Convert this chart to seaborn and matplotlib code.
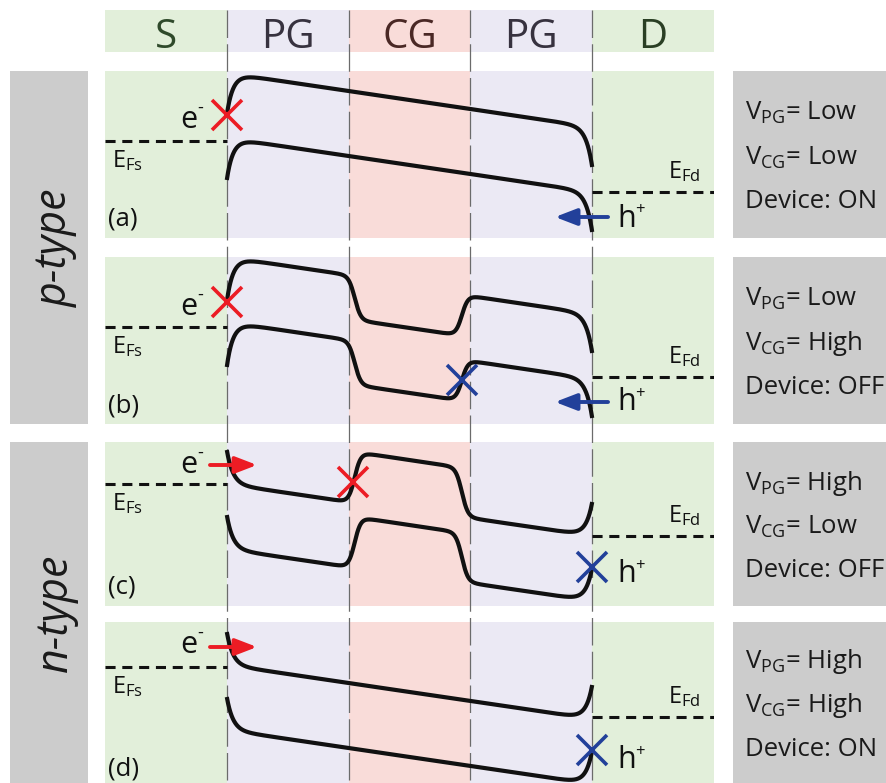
import numpy as np
import matplotlib
matplotlib.use("Agg")
import matplotlib.pyplot as plt
from matplotlib.patches import Rectangle
import seaborn as sns

# ---------------------------------------------------------------- data
regions = ["S", "PG", "CG", "PG", "D"]
panel_tags = ["(a)", "(b)", "(c)", "(d)"]
type_labels = ["p-type", "n-type"]
v_pg = ["Low", "Low", "High", "High"]
v_cg = ["Low", "High", "Low", "High"]
device_state = ["ON", "OFF", "OFF", "ON"]

# conduction-band edge at the start of the PG, CG and PG segments (a.u.)
cb_levels = [[165, 147, 129], [167, 105, 128], [122, 155, 88], [118, 100, 82]]
cb_source = [123, 122, 156, 151]   # band edge pinned at the source contact
cb_drain = [71, 71, 104, 98]       # band edge pinned at the drain contact
ef_source = [97, 97, 122, 116]     # source Fermi level
ef_drain = [46, 47, 70, 66]        # drain Fermi level
band_gap = 65
ds_tilt = 18                       # potential drop per region from V_DS

# where carriers are blocked (None = not blocked)
electron_block_x = [1.0, 1.0, 2.04, None]
hole_block_x = [None, 2.93, 4.0, 4.0]
# injected carriers drawn as arrows
electron_injected = [False, False, True, True]
hole_injected = [True, True, False, False]

# ---------------------------------------------------------------- styling
sns.set_theme(style="white")
plt.rcParams["font.family"] = ["Open Sans", "DejaVu Sans"]
plt.rcParams["mathtext.fontset"] = "custom"
plt.rcParams["mathtext.rm"] = "Open Sans"
plt.rcParams["mathtext.it"] = "Open Sans:italic"
plt.rcParams["mathtext.bf"] = "Open Sans:bold"

region_colors = ["#e2efda", "#ebe9f4", "#f9dcd9", "#ebe9f4", "#e2efda"]
header_colors = ["#2f4a2b", "#37323f", "#4a2825", "#37323f", "#2a3f24"]
RED = "#ec1c24"
BLUE = "#22409a"
GREY = "#cccccc"
INK = "#111111"

W, H, DPI = 886, 783, 100
X0, X1 = 105, 714
HEAD = (10, 52)
rows = [(71, 238), (257, 424), (442, 606), (622, 783)]

e_label_base = [110, 109, 133, 130]
e_arrow_y = [None, None, 141, 136]
h_label_base = [11, 14, 24, 15]
h_arrow_y = [21, 22, None, None]
tag_base = [13, 12, 12, 8]
ARROW = "-|>,head_length=1.3,head_width=0.5"


def frac(x0, y0, x1, y1):
    return [x0 / W, 1 - y1 / H, (x1 - x0) / W, (y1 - y0) / H]


def conduction_band(x, levels, src, drn, tilt, steps=(2.05, 2.93), w=0.05, L=0.05):
    seg = [levels[i] - tilt * (x - (1 + i)) for i in range(3)]
    s1 = 0.5 * (1 + np.tanh((x - steps[0]) / w))
    s2 = 0.5 * (1 + np.tanh((x - steps[1]) / w))
    base = seg[0] + s1 * (seg[1] - seg[0]) + s2 * (seg[2] - seg[1])
    b_src = levels[0]
    b_drn = levels[2] - tilt
    return (base + (src - b_src) * np.exp(-(x - 1) / L)
            + (drn - b_drn) * np.exp(-(4 - x) / L))


fig = plt.figure(figsize=(W / DPI, H / DPI), dpi=DPI)

# grey side bars and state boxes, in figure pixels
base = fig.add_axes([0, 0, 1, 1], zorder=0)
base.set_xlim(0, W)
base.set_ylim(H, 0)
base.axis("off")
for (top, bot), lab in zip([(71, 424), (442, 783)], type_labels):
    base.add_patch(Rectangle((10, top), 78, bot - top, color=GREY, lw=0))
    base.text(56, (top + bot) / 2, lab, rotation=90, ha="center", va="center",
              fontsize=31, style="italic", color="#1a1a1a")
for k, (top, bot) in enumerate(rows):
    base.add_patch(Rectangle((733, top), W - 733, bot - top, color=GREY, lw=0))
    c = (top + bot) / 2
    lines = [r"V$_{\mathrm{PG}}$= " + v_pg[k],
             r"V$_{\mathrm{CG}}$= " + v_cg[k],
             "Device: " + device_state[k]]
    for txt, dy in zip(lines, [-34.5, 10, 53]):
        base.text(745, c + dy, txt, ha="left", va="baseline",
                  fontsize=18.5, color="#1a1a1a")

# device regions: header strip, panel backgrounds, boundary lines
col = fig.add_axes(frac(X0, HEAD[0], X1, H), zorder=1)
col.set_xlim(0, 5)
col.set_ylim(H, HEAD[0])
col.axis("off")
for i, (name, fc, tc) in enumerate(zip(regions, region_colors, header_colors)):
    for top, bot in [HEAD] + rows:
        col.add_patch(Rectangle((i, top), 1, bot - top, color=fc, lw=0))
    col.text(i + 0.5, 48, name, ha="center", va="baseline", fontsize=29, color=tc)
col.vlines([1, 2, 3, 4], HEAD[0], H, colors="#6b6b6b", lw=0.9,
           linestyles=(0, (22, 5)))

# band diagrams
xs = np.linspace(1, 4, 1500)
for k, (top, bot) in enumerate(rows):
    ax = fig.add_axes(frac(X0, top, X1, bot), zorder=2)
    ax.set_xlim(0, 5)
    ax.set_ylim(0, bot - top)
    ax.axis("off")
    ax.patch.set_alpha(0)

    cb = conduction_band(xs, cb_levels[k], cb_source[k], cb_drain[k], ds_tilt)
    vb = cb - band_gap
    for band in (cb, vb):
        sns.lineplot(x=xs, y=band, ax=ax, color=INK, lw=3, sort=False,
                     estimator=None)
    for line in ax.lines:
        line.set_clip_on(False)
        line.set_solid_capstyle("butt")

    ax.hlines(ef_source[k], 0, 1, colors=INK, lw=2.2, linestyles=(0, (3.3, 2.2)))
    ax.hlines(ef_drain[k], 4, 5, colors=INK, lw=2.2, linestyles=(0, (3.3, 2.2)))
    ax.text(0.057, ef_source[k] - 26, r"E$_{\mathrm{Fs}}$", fontsize=17,
            va="baseline", ha="left", color=INK)
    ax.text(4.62, ef_drain[k] + 14, r"E$_{\mathrm{Fd}}$", fontsize=17,
            va="baseline", ha="left", color=INK)
    ax.text(0.025, tag_base[k], panel_tags[k], fontsize=18.5, va="baseline",
            ha="left", color=INK)

    # carrier labels: e with a raised hyphen, h with a raised plus
    ax.text(0.616, e_label_base[k], "e", fontsize=22, va="baseline",
            ha="left", color=INK)
    ax.annotate("-", xy=(0.616, e_label_base[k]), xytext=(12.5, 11),
                textcoords="offset points", fontsize=13, va="baseline",
                ha="left", color=INK)
    ax.text(4.206, h_label_base[k], "h", fontsize=22, va="baseline",
            ha="left", color=INK)
    ax.annotate("+", xy=(4.206, h_label_base[k]), xytext=(13, 9),
                textcoords="offset points", fontsize=12, va="baseline",
                ha="left", color=INK)

    if electron_block_x[k] is not None:
        xb = electron_block_x[k]
        yb = conduction_band(np.array([xb]), cb_levels[k], cb_source[k],
                             cb_drain[k], ds_tilt)[0]
        ax.plot([xb], [yb], marker="x", ms=22, mew=2.6, color=RED,
                clip_on=False, zorder=5)
    if electron_injected[k]:
        ax.annotate("", xy=(1.248, e_arrow_y[k]), xytext=(0.862, e_arrow_y[k]),
                    arrowprops=dict(arrowstyle=ARROW, mutation_scale=10, lw=2.8,
                                    color=RED, shrinkA=0, shrinkB=0), zorder=5)

    if hole_block_x[k] is not None:
        xb = hole_block_x[k]
        yb = conduction_band(np.array([xb]), cb_levels[k], cb_source[k],
                             cb_drain[k], ds_tilt)[0] - band_gap
        ax.plot([xb], [yb], marker="x", ms=22, mew=2.6, color=BLUE,
                clip_on=False, zorder=5)
    if hole_injected[k]:
        ax.annotate("", xy=(3.695, h_arrow_y[k]), xytext=(4.13, h_arrow_y[k]),
                    arrowprops=dict(arrowstyle=ARROW, mutation_scale=10, lw=2.8,
                                    color=BLUE, shrinkA=0, shrinkB=0), zorder=5)

fig.savefig("out.png", dpi=DPI)
